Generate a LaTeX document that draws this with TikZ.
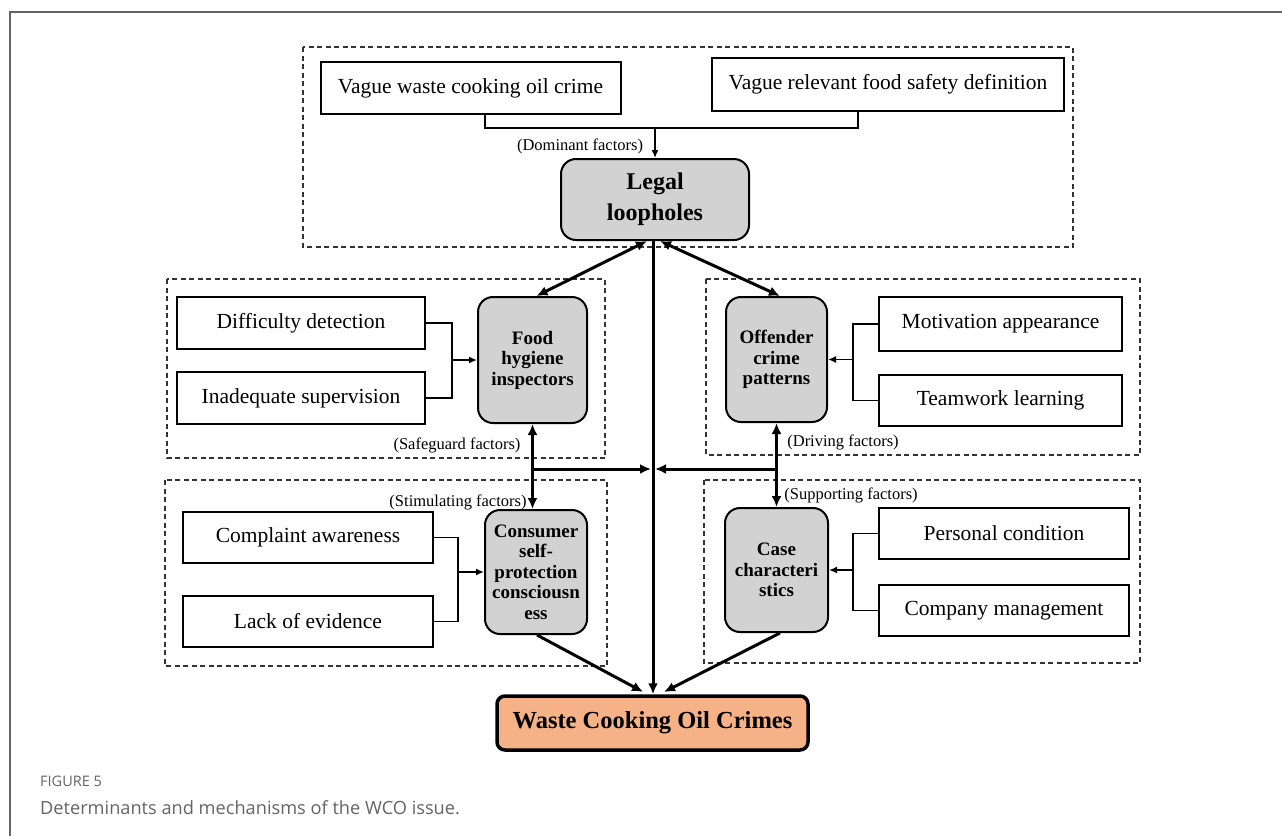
\documentclass[tikz,border=0pt]{standalone}
\usepackage{fontspec}
\setmainfont{Liberation Serif}
\newfontfamily\capfont{Open Sans}
\usetikzlibrary{arrows.meta}
\definecolor{boxgray}{RGB}{210,210,210}
\definecolor{wcoorange}{RGB}{244,178,134}
\definecolor{capgray}{RGB}{100,100,100}
\tikzset{
  factorbox/.style={draw=black, line width=2pt, fill=white, minimum width=#1, minimum height=52pt, inner sep=0pt, font=\fontsize{21.5}{25}\selectfont},
  graybox/.style={draw=black, line width=2pt, fill=boxgray, rounded corners=15pt, inner sep=0pt, align=center, font=\bfseries\fontsize{19}{20.5}\selectfont},
  dashbox/.style={draw=black!80, line width=1.2pt, dash pattern=on 5pt off 3.5pt},
  conn/.style={line width=1.8pt},
  connarrow/.style={line width=1.8pt, -{Latex[length=8pt,width=7pt]}},
  thick arrow/.style={line width=3pt, -{Latex[length=11pt,width=10pt]}},
  both arrow/.style={line width=3pt, {Latex[length=11pt,width=10pt]}-{Latex[length=11pt,width=10pt]}},
  factlabel/.style={font=\fontsize{16.5}{18}\selectfont, inner sep=0pt}
}
\begin{document}
\begin{tikzpicture}[x=1pt,y=-1pt]
\useasboundingbox (0,0) rectangle (1282,836);
% outer frame
\draw[capgray, line width=1.4pt] (10,836) -- (10,12) -- (1282,12);

% dashed group frames
\draw[dashbox] (303,47) rectangle (1073,247);
\draw[dashbox] (167,279) rectangle (605,458);
\draw[dashbox] (706,279) rectangle (1140,455);
\draw[dashbox] (165,480) rectangle (607,666);
\draw[dashbox] (704,480) rectangle (1140,663);

% top group
\node[factorbox=300pt] (v1) at (470.5,88) {Vague waste cooking oil crime};
\node[factorbox=352pt, minimum height=53pt] (v2) at (888,84.5) {Vague relevant food safety definition};
\node[graybox, minimum width=188pt, minimum height=81pt, font=\bfseries\fontsize{24}{31}\selectfont] (legal) at (655,199.5) {Legal\\loopholes};
\coordinate (ja) at (485,128);
\coordinate (jb) at (858,128);
\coordinate (jm) at (655,128);
\draw[conn] (ja |- v1.south) -- (ja) -- (jb) -- (jb |- v2.south);
\draw[connarrow] (jm) -- (legal.north);
\node[factlabel] (domlab) at (580,146) {(Dominant factors)};

% middle left group
\node[factorbox=248pt] (diff) at (301,323) {Difficulty detection};
\node[factorbox=248pt] (inad) at (301,398) {Inadequate supervision};
\node[graybox, minimum width=109pt, minimum height=126pt] (food) at (532.5,360) {Food\\hygiene\\inspectors};
\coordinate (jfa) at (452,323);
\coordinate (jfb) at (452,398);
\coordinate (jfm) at (452,360);
\draw[conn] (diff.east) -- (jfa) -- (jfb) -- (inad.east);
\draw[connarrow] (jfm) -- (food.west);
\node[factlabel] (safelab) at (457,445) {(Safeguard factors)};

% middle right group
\node[graybox, minimum width=101pt, minimum height=125pt] (off) at (776.5,359.5) {Offender\\crime\\patterns};
\node[factorbox=243pt, minimum height=54pt] (mot) at (1000.5,324) {Motivation appearance};
\node[factorbox=243pt, minimum height=51pt] (team) at (1000.5,400.5) {Teamwork learning};
\coordinate (joa) at (853,324);
\coordinate (job) at (853,400.5);
\coordinate (jom) at (853,359.5);
\draw[conn] (mot.west) -- (joa) -- (job) -- (team.west);
\draw[connarrow] (jom) -- (off.east);
\node[factlabel] (drivlab) at (843,442) {(Driving factors)};

% lower left group
\node[factorbox=250pt, minimum height=51pt] (comp) at (308,537.5) {Complaint awareness};
\node[factorbox=250pt, minimum height=51pt] (lack) at (308,621.5) {Lack of evidence};
\node[graybox, minimum width=102pt, minimum height=124pt] (cons) at (536,572) {Consumer\\self-\\protection\\consciousn\\ess};
\coordinate (jca) at (458,537.5);
\coordinate (jcb) at (458,621.5);
\coordinate (jcm) at (458,572);
\draw[conn] (comp.east) -- (jca) -- (jcb) -- (lack.east);
\draw[connarrow] (jcm) -- (cons.west);
\node[factlabel] (stimlab) at (458,502) {(Stimulating factors)};

% lower right group
\node[graybox, minimum width=103pt, minimum height=124pt] (case) at (776.5,570) {Case\\characteri\\stics};
\node[factorbox=250pt, minimum height=51pt] (pers) at (1004,533.5) {Personal condition};
\node[factorbox=250pt, minimum height=51pt] (compm) at (1004,610.5) {Company management};
\coordinate (jka) at (853,533.5);
\coordinate (jkb) at (853,610.5);
\coordinate (jkm) at (853,570);
\draw[conn] (pers.west) -- (jka) -- (jkb) -- (compm.west);
\draw[connarrow] (jkm) -- (case.east);
\node[factlabel] (suplab) at (851,495) {(Supporting factors)};

% central result
\node[draw=black, line width=3.5pt, fill=wcoorange, rounded corners=8pt, minimum width=311pt, minimum height=54pt, inner sep=0pt, font=\bfseries\fontsize{24.5}{28}\selectfont] (wco) at (652.5,723) {Waste Cooking Oil Crimes};

% main arrows
\draw[both arrow] ([xshift=-8pt]legal.south) -- ([xshift=4pt]food.north);
\draw[both arrow] ([xshift=5pt]legal.south) -- ([xshift=3.5pt]off.north);
\draw[thick arrow] ([xshift=-2pt]legal.south) -- ([xshift=0.5pt]wco.north);
\draw[both arrow] (food.south) -- (food.south |- cons.north);
\draw[both arrow] (off.south) -- (off.south |- case.north);
\coordinate (hl) at (532.5,469);
\coordinate (hr) at (776.5,469);
\coordinate (hcl) at (651,469);
\coordinate (hcr) at (655,469);
\draw[thick arrow] (hl) -- (hcl);
\draw[thick arrow] (hr) -- (hcr);
\draw[thick arrow, shorten >=5pt] ([xshift=1pt]cons.south) -- ([xshift=-5pt]wco.north);
\draw[thick arrow, shorten >=5pt] ([xshift=3.5pt]case.south) -- ([xshift=7pt]wco.north);

% caption
\node[anchor=west, inner sep=0pt, text=capgray, font=\capfont\fontsize{14.5}{16}\selectfont] (fig) at (40,781) {FIGURE 5};
\node[anchor=west, inner sep=0pt, text=capgray, font=\capfont\fontsize{18.2}{21}\selectfont] (cap) at (40,808) {Determinants and mechanisms of the WCO issue.};
\end{tikzpicture}
\end{document}
